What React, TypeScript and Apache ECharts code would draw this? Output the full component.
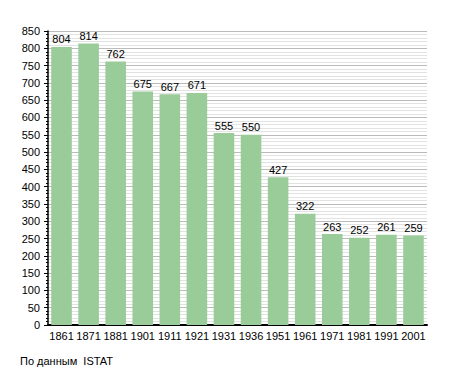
import React, { useEffect, useRef } from "react";
import * as echarts from "echarts";

const years = ["1861","1871","1881","1901","1911","1921","1931","1936","1951","1961","1971","1981","1991","2001"];
const population = [804, 814, 762, 675, 667, 671, 555, 550, 427, 322, 263, 252, 261, 259];
const sourceText = "По данным  ISTAT";

export default function App() {
  const ref = useRef<HTMLDivElement>(null);
  useEffect(() => {
    const chart = echarts.init(ref.current!, null, { renderer: "svg" });
    chart.setOption({
      animation: false,
      grid: { left: 48, top: 31, right: 28, bottom: 48 },
      graphic: [
        { type: "text", left: 20, top: 355, style: { text: sourceText, fontFamily: "Liberation Sans, Arial", fontSize: 11, fill: "#000" } },
      ],
      xAxis: {
        type: "category",
        data: years,
        axisLine: { lineStyle: { color: "#000", width: 2 } },
        axisTick: { show: false },
        axisLabel: { interval: 0, color: "#000", fontFamily: "Liberation Sans, Arial", fontSize: 11, margin: 5 },
      },
      yAxis: {
        type: "value",
        min: 0,
        max: 850,
        interval: 50,
        axisLine: { show: true, lineStyle: { color: "#000", width: 1.5 } },
        axisTick: { show: true, length: 4, lineStyle: { color: "#000" } },
        minorTick: { show: true, splitNumber: 5, length: 2, lineStyle: { color: "#000" } },
        axisLabel: { color: "#000", fontFamily: "Liberation Sans, Arial", fontSize: 11, margin: 8 },
        splitLine: { show: true, lineStyle: { color: "#bbbbbb", width: 1 } },
        minorSplitLine: { show: true, lineStyle: { color: "#e2e2e2", width: 1 } },
      },
      series: [
        {
          type: "bar",
          data: population,
          barCategoryGap: "24%",
          itemStyle: { color: "#99cc99" },
          label: { show: true, position: "top", distance: 2, color: "#000", fontFamily: "Liberation Sans, Arial", fontSize: 11 },
        },
      ],
    });
    return () => chart.dispose();
  }, []);
  return <div ref={ref} style={{ width: 455, height: 373, position: "absolute", left: 0, top: 0 }} />;
}
